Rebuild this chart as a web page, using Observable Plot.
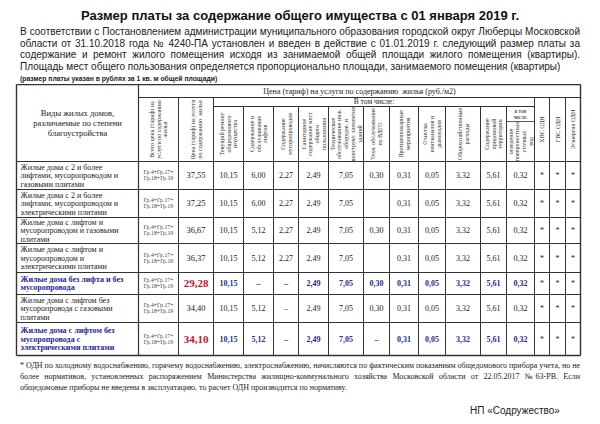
<!DOCTYPE html>
<html><head><meta charset="utf-8">
<script src="https://cdn.jsdelivr.net/npm/d3@7"></script>
<script src="https://cdn.jsdelivr.net/npm/@observablehq/plot@0.6"></script>
<style>
body{margin:0;width:600px;height:424px;background:#fff;overflow:hidden;position:relative;color:#222}
.ln{white-space:nowrap;text-align:justify;text-align-last:justify}
.ln.last{text-align-last:left}
#top{position:relative;height:84px}
#title{position:absolute;top:8px;left:0;width:600px;text-align:center;font:bold 13px "Liberation Sans",Arial,sans-serif;color:#111}
#para{position:absolute;top:26px;left:20px;width:560px;font:10px/11.6px "Liberation Sans",Arial,sans-serif;color:#222}
#note{position:absolute;top:75px;left:20px;font:bold 6.8px "Liberation Sans",Arial,sans-serif;color:#222}
#foot{position:absolute;top:360px;left:20px;width:560px;font:8px/11px "Liberation Serif","Times New Roman",serif;color:#222}
#sign{position:absolute;top:405px;left:470px;font:10px "Liberation Sans",Arial,sans-serif;color:#222}
</style></head>
<body>
<div id="top">
  <div id="title"></div>
  <div id="para"></div>
  <div id="note"></div>
</div>
<div id="chart"></div>
<div id="foot"></div>
<div id="sign"></div>
<script>
// ---- texts ----
const titleText = "Размер платы за содержание общего имущества с 01 января 2019 г.";
const introLines = [
  "В соответствии с Постановлением администрации муниципального образования городской округ Люберцы Московской",
  "области от 31.10.2018 года № 4240-ПА установлен и введен в действие с 01.01.2019 г.  следующий размер платы за",
  "содержание и ремонт жилого помещения исходя из занимаемой общей площади жилого помещения (квартиры).",
  "Площадь мест общего пользования определяется пропорционально площади, занимаемого помещения (квартиры)"
];
const noteText = "(размер платы указан в рублях за 1 кв. м общей площади)";
const footLines = [
  "* ОДН по холодному водоснабжению, горячему водоснабжению, электроснабжению, начисляются по фактическим показаниям общедомового прибора учета,  но не",
  "более нормативов, установленных  распоряжением Министерства жилищно-коммунального хозяйства Московской области от 22.05.2017 №63-РВ. Если",
  "общедомовые приборы не введены в эксплуатацию, то расчет ОДН производится по нормативу."
];
const signText = "НП «Содружество»";

// ---- table data ----
const rowLabels = [
  "Жилые дома с 2 и более\nлифтами, мусоропроводом и\nгазовыми плитами",
  "Жилые дома с 2 и более\nлифтами, мусоропроводом и\nэлектрическими плитами",
  "Жилые дома с лифтом и\nмусоропроводом и газовыми\nплитами",
  "Жилые дома с лифтом и\nмусоропроводом и\nэлектрическими плитами",
  "Жилые дома без лифта и без\nмусоропровода",
  "Жилые дома с лифтом без\nмусоропровода с газовыми\nплитами",
  "Жилые дома с лифтом без\nмусоропровода с\nэлектрическими плитами"
];
const highlighted = [false, false, false, false, true, false, true];
const formula = "Гр.4+Гр.17+\nГр.18+Гр.19";
const totals    = [37.55, 37.25, 36.67, 36.37, 29.28, 34.40, 34.10];
const tekRemont = [10.15, 10.15, 10.15, 10.15, 10.15, 10.15, 10.15];
const lifts     = [6.00, 6.00, 5.12, 5.12, "–", 5.12, 5.12];
const musor     = [2.27, 2.27, 2.27, 2.27, "–", "–", "–"];
const sanit     = [2.49, 2.49, 2.49, 2.49, 2.49, 2.49, 2.49];
const techObsl  = [7.05, 7.05, 7.05, 7.05, 7.05, 7.05, 7.05];
const vdgo      = [0.30, null, 0.30, null, 0.30, 0.30, "–"];
const fire      = [0.31, 0.31, 0.31, 0.31, 0.31, 0.31, 0.31];
const vent      = [0.05, 0.05, 0.05, 0.05, 0.05, 0.05, 0.05];
const obshHoz   = [3.32, 3.32, 3.32, 3.32, 3.32, 3.32, 3.32];
const pridom    = [5.61, 5.61, 5.61, 5.61, 5.61, 5.61, 5.61];
const stoki     = [0.32, 0.32, 0.32, 0.32, 0.32, 0.32, 0.32];
const hvsOdn    = ["*", "*", "*", "*", "*", "*", "*"];
const gvsOdn    = ["*", "*", "*", "*", "*", "*", "*"];
const eeOdn     = ["*", "*", "*", "*", "*", "*", "*"];

const leftHeader = "Виды жилых домов,\nразличаемые по степени\nблагоустройства";
const groupHeader = "Цена (тариф) на услуги по содержанию  жилья (руб./м2)";
const subGroupHeader = "В том числе:";
const colHeaders = [
  "Всего цена (тариф) на\nуслуги по содержанию\nжилья",
  "Цена (тариф) на услуги\nпо содержанию  жилья",
  "Текущий ремонт\nобщедомового\nимущества",
  "Содержание и\nобслуживание\nлифтов",
  "Содержание\nмусоропроводов",
  "Санитарное\nсодержание мест\nобщего\nпользования",
  "Техническое\nобслуживание инж.\nоборудов. и\nконструкт. элементов\nзданий",
  "Техн. обслуживание\nпо ВДГО",
  "Противопожарные\nмероприятия",
  "Очистка\nвентканалов и\nдымоходов",
  "Общехозяйственные\nрасходы",
  "Содержание\nпридомовой\nтерритории",
  "отведение\nповерхностных\nсточных\nвод",
  "ХВС ОДН",
  "ГВС ОДН",
  "Э/энергия ОДН"
];
const inclHeader = "в том\nчисле:";

// ---- layout (page pixel coordinates) ----
const colEdges = [16,138,178,213,243,273,298,328,363,389,418,445,480,506,534,549,565,580];
const rowEdges = [161,189,217,243,272,294,322,355];
const yTop = 84, yGroup = 97, ySub = 106, yIncl = 121, yHead = 161;
const svgTop = 84, svgBottom = 358;

// ---- html texts ----
document.getElementById("title").textContent = titleText;
const para = document.getElementById("para");
introLines.forEach((t,i)=>{const d=document.createElement("div");d.className="ln"+(i===introLines.length-1?" last":"");d.textContent=t;para.appendChild(d);});
document.getElementById("note").textContent = noteText;
const foot = document.getElementById("foot");
footLines.forEach((t,i)=>{const d=document.createElement("div");d.className="ln"+(i===footLines.length-1?" last":"");d.textContent=t;foot.appendChild(d);});
document.getElementById("sign").textContent = signText;

// ---- build table marks ----
const fmt = v => typeof v === "number" ? v.toFixed(2).replace(".", ",") : (v ?? "");
const cx = i => (colEdges[i] + colEdges[i+1]) / 2;
const cy = r => (rowEdges[r] + rowEdges[r+1]) / 2;
const L = colEdges[0], R = colEdges[colEdges.length-1], B = rowEdges[rowEdges.length-1];

const segs = [];
segs.push({x1:L,y1:yTop,x2:R,y2:yTop,w:1.4});
segs.push({x1:L,y1:B,x2:R,y2:B,w:1.4});
segs.push({x1:L,y1:yTop,x2:L,y2:B,w:1.4});
segs.push({x1:R,y1:yTop,x2:R,y2:B,w:1.4});
segs.push({x1:colEdges[1],y1:yTop,x2:colEdges[1],y2:B,w:1.2});
segs.push({x1:colEdges[1],y1:yGroup,x2:R,y2:yGroup,w:1});
segs.push({x1:colEdges[3],y1:ySub,x2:colEdges[14],y2:ySub,w:1});
segs.push({x1:colEdges[13],y1:yIncl,x2:colEdges[14],y2:yIncl,w:0.8});
segs.push({x1:L,y1:yHead,x2:R,y2:yHead,w:1.2});
rowEdges.slice(1,-1).forEach(y=>segs.push({x1:L,y1:y,x2:R,y2:y,w:1}));
for (let i = 2; i < colEdges.length-1; i++) {
  const top = (i <= 3 || i >= 14) ? yGroup : ySub;
  segs.push({x1:colEdges[i],y1:top,x2:colEdges[i],y2:B,w:1});
}

const series = [tekRemont,lifts,musor,sanit,techObsl,vdgo,fire,vent,obshHoz,pridom,stoki,hvsOdn,gvsOdn,eeOdn];
const cells = [];
for (let r = 0; r < rowLabels.length; r++) {
  series.forEach((s,k)=>{
    const col = k + 3;
    cells.push({x: cx(col), y: cy(r), t: fmt(s[r]), hi: highlighted[r], star: col >= 14});
  });
}
const totalCells = totals.map((v,r)=>({x:cx(2), y:cy(r), t:fmt(v), hi:highlighted[r]}));
const formulaCells = rowLabels.map((_,r)=>({x:cx(1), y:cy(r), t:formula}));
const labelCells = rowLabels.map((t,r)=>({x:L+4, y:cy(r), t, hi:highlighted[r]}));

const hdr = colHeaders.map((t,k)=>{
  const col = k + 1;
  let top = (col <= 2 || col >= 14) ? yGroup : ySub;
  if (col === 13) top = yIncl;
  return {x: cx(col), y: (top + yHead)/2, t};
});

const serif = "Liberation Serif, Times New Roman, serif";
const blue = "#1f2a9a", red = "#c8102e", ink = "#222";

const chart = Plot.plot({
  width: 600, height: svgBottom - svgTop, margin: 0,
  x: {domain:[0,600], range:[0,600], axis:null},
  y: {domain:[svgTop, svgBottom], range:[0, svgBottom - svgTop], axis:null},
  style: {background:"white", fontFamily: serif},
  marks: [
    Plot.link(segs, {x1:"x1", y1:"y1", x2:"x2", y2:"y2", stroke:"#333", strokeWidth:d=>d.w}),
    Plot.text([leftHeader], {x:()=>cx(0), y:()=>(yTop+yHead)/2, text:d=>d, fontSize:8.5, lineHeight:1.15, fill:ink}),
    Plot.text([groupHeader], {x:()=>(colEdges[1]+R)/2, y:()=>(yTop+yGroup)/2, text:d=>d, fontSize:8, fill:ink}),
    Plot.text([subGroupHeader], {x:()=>(colEdges[3]+colEdges[14])/2, y:()=>(yGroup+ySub)/2, text:d=>d, fontSize:7.5, fill:ink}),
    Plot.text([inclHeader], {x:()=>cx(13), y:()=>(ySub+yIncl)/2, text:d=>d, fontSize:5.2, lineHeight:1.1, fill:ink}),
    Plot.text(hdr, {x:"x", y:"y", text:"t", rotate:-90, fontSize:6, lineHeight:1.12, fill:"#333"}),
    Plot.text(labelCells.filter(d=>!d.hi), {x:"x", y:"y", text:"t", textAnchor:"start", fontSize:8, lineHeight:1.06, fill:ink}),
    Plot.text(labelCells.filter(d=>d.hi), {x:"x", y:"y", text:"t", textAnchor:"start", fontSize:8, lineHeight:1.06, fontWeight:"bold", fill:blue}),
    Plot.text(formulaCells, {x:"x", y:"y", text:"t", fontSize:5.8, lineHeight:1.0, fill:"#444"}),
    Plot.text(totalCells.filter(d=>!d.hi), {x:"x", y:"y", text:"t", fontSize:8.5, fill:ink}),
    Plot.text(totalCells.filter(d=>d.hi), {x:"x", y:"y", text:"t", fontSize:11, fontWeight:"bold", fill:red}),
    Plot.text(cells.filter(d=>!d.hi && !d.star), {x:"x", y:"y", text:"t", fontSize:8, fill:ink}),
    Plot.text(cells.filter(d=>d.hi && !d.star), {x:"x", y:"y", text:"t", fontSize:8, fontWeight:"bold", fill:blue}),
    Plot.text(cells.filter(d=>d.star), {x:"x", y:"y", text:"t", fontSize:8, fill:ink})
  ]
});
document.getElementById("chart").appendChild(chart);
</script>
</body></html>
